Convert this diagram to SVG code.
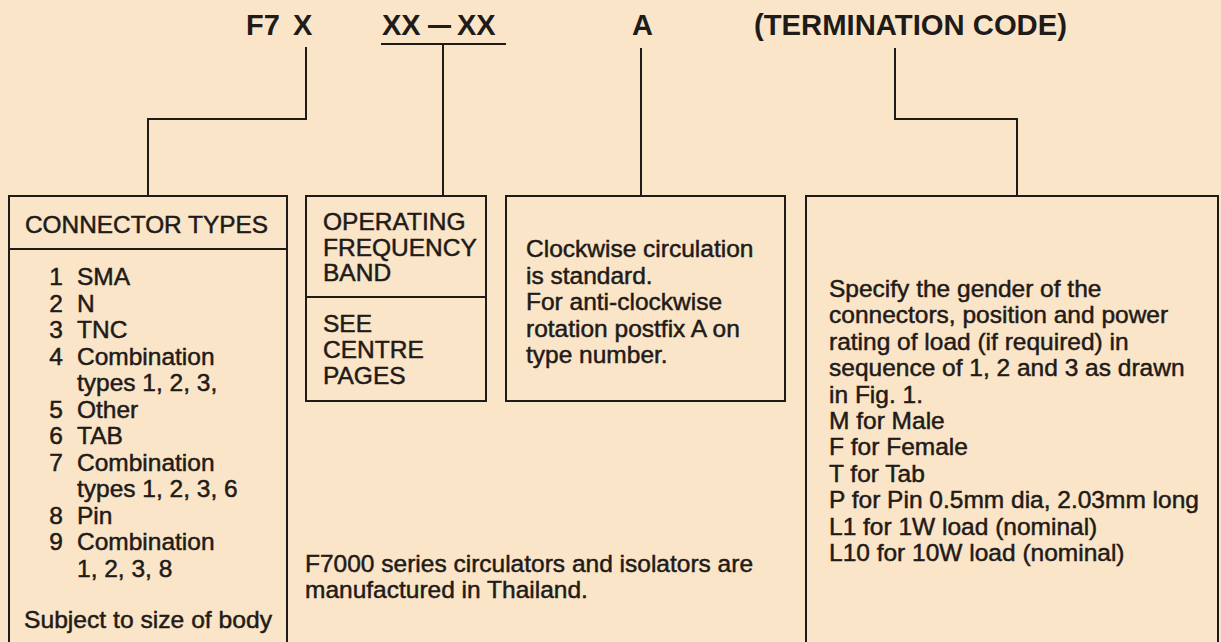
<svg xmlns="http://www.w3.org/2000/svg" width="1221" height="642" viewBox="0 0 1221 642">
<style>
.bg{fill:#FBE5C8}
.box{fill:none;stroke:#1f1b18;stroke-width:2}
.ln{fill:none;stroke:#1f1b18;stroke-width:2}
text{font-family:"Liberation Sans",Arial,sans-serif;fill:#1f1b18}
.hdr{font-size:29px;font-weight:bold}
.t{font-size:24.5px;stroke:#1f1b18;stroke-width:0.5}
.n{font-size:24.5px;text-anchor:end;stroke:#1f1b18;stroke-width:0.5}
</style>
<rect class="bg" x="0" y="0" width="1221" height="642"/>
<g id="header">
<text class="hdr" x="246" y="35">F7</text>
<text class="hdr" x="293" y="35">X</text>
<text class="hdr" x="382" y="35">XX</text>
<text class="hdr" x="428" y="35" textLength="23" lengthAdjust="spacingAndGlyphs">—</text>
<text class="hdr" x="457" y="35">XX</text>
<text class="hdr" x="632" y="35">A</text>
<text class="hdr" x="754" y="35" textLength="313" lengthAdjust="spacingAndGlyphs">(TERMINATION CODE)</text>
</g>
<g id="connectors">
<path class="ln" d="M306,47 V119 H148 V196"/>
<path class="ln" d="M381,44 H506"/>
<path class="ln" d="M443,44 V196"/>
<path class="ln" d="M641,48 V196"/>
<path class="ln" d="M895,48 V119 H1017 V196"/>
</g>
<g id="connector-types">
<rect class="box" x="9" y="196" width="278" height="460"/>
<line class="ln" x1="9" y1="249" x2="287" y2="249"/>
<text class="t" x="25" y="233" textLength="243" lengthAdjust="spacingAndGlyphs">CONNECTOR TYPES</text>
<text class="n" x="63" y="285">1</text><text class="t" x="77" y="285">SMA</text>
<text class="n" x="63" y="311.5">2</text><text class="t" x="77" y="311.5">N</text>
<text class="n" x="63" y="338">3</text><text class="t" x="77" y="338">TNC</text>
<text class="n" x="63" y="364.5">4</text><text class="t" x="77" y="364.5">Combination</text>
<text class="t" x="77" y="391">types 1, 2, 3,</text>
<text class="n" x="63" y="417.5">5</text><text class="t" x="77" y="417.5">Other</text>
<text class="n" x="63" y="444">6</text><text class="t" x="77" y="444">TAB</text>
<text class="n" x="63" y="470.5">7</text><text class="t" x="77" y="470.5">Combination</text>
<text class="t" x="77" y="497">types 1, 2, 3, 6</text>
<text class="n" x="63" y="523.5">8</text><text class="t" x="77" y="523.5">Pin</text>
<text class="n" x="63" y="550">9</text><text class="t" x="77" y="550">Combination</text>
<text class="t" x="77" y="576.5">1, 2, 3, 8</text>
<text class="t" x="24" y="628" textLength="248" lengthAdjust="spacingAndGlyphs">Subject to size of body</text>
</g>
<g id="frequency-band">
<rect class="box" x="306" y="196" width="180" height="205"/>
<line class="ln" x1="306" y1="297" x2="486" y2="297"/>
<text class="t" x="323" y="230">OPERATING</text>
<text class="t" x="323" y="255.5">FREQUENCY</text>
<text class="t" x="323" y="281">BAND</text>
<text class="t" x="323" y="332">SEE</text>
<text class="t" x="323" y="358">CENTRE</text>
<text class="t" x="323" y="384">PAGES</text>
</g>
<g id="rotation">
<rect class="box" x="506" y="196" width="279" height="205"/>
<text class="t" x="526" y="257">Clockwise circulation</text>
<text class="t" x="526" y="283.5">is standard.</text>
<text class="t" x="526" y="310">For anti-clockwise</text>
<text class="t" x="526" y="336.5">rotation postfix A on</text>
<text class="t" x="526" y="363">type number.</text>
</g>
<g id="termination-code">
<rect class="box" x="806" y="196" width="412" height="460"/>
<text class="t" x="829" y="297">Specify the gender of the</text>
<text class="t" x="829" y="323.4">connectors, position and power</text>
<text class="t" x="829" y="349.8">rating of load (if required) in</text>
<text class="t" x="829" y="376.2">sequence of 1, 2 and 3 as drawn</text>
<text class="t" x="829" y="402.6">in Fig. 1.</text>
<text class="t" x="829" y="429">M for Male</text>
<text class="t" x="829" y="455.4">F for Female</text>
<text class="t" x="829" y="481.8">T for Tab</text>
<text class="t" x="829" y="508.2">P for Pin 0.5mm dia, 2.03mm long</text>
<text class="t" x="829" y="534.6">L1 for 1W load (nominal)</text>
<text class="t" x="829" y="561">L10 for 10W load (nominal)</text>
</g>
<g id="note">
<text class="t" x="305" y="572">F7000 series circulators and isolators are</text>
<text class="t" x="305" y="598">manufactured in Thailand.</text>
</g>
</svg>
